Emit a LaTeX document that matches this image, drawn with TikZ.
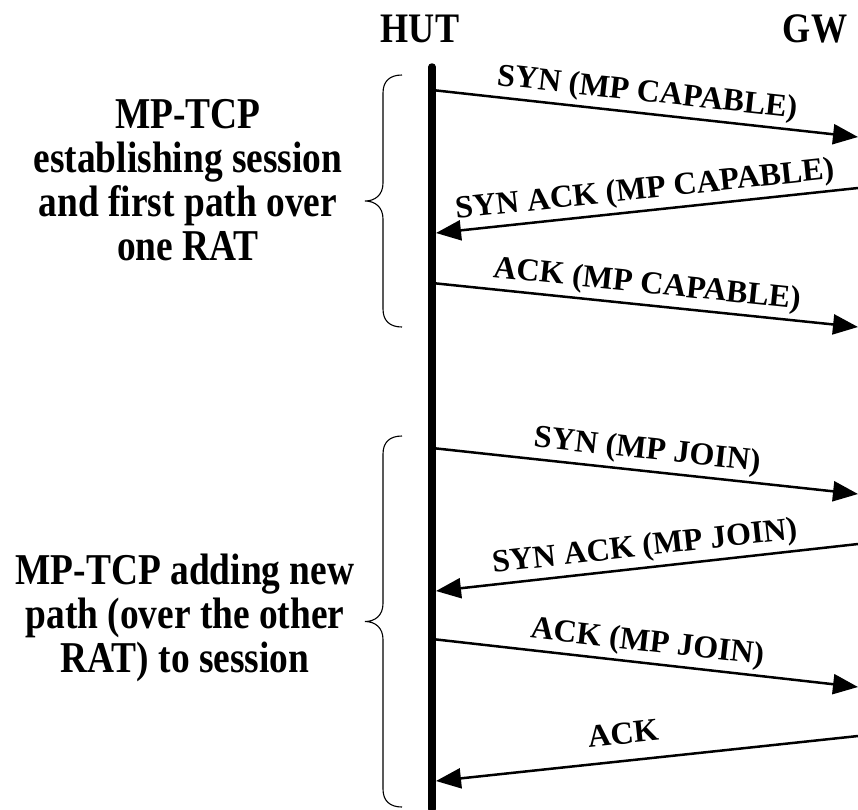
\documentclass[tikz,border=0pt]{standalone}
\usepackage{fontspec}
\setmainfont{Liberation Serif}
\newfontfamily\headfont[FakeStretch=0.86]{Liberation Serif}
\newfontfamily\phasefont[FakeStretch=0.85]{Liberation Serif}
\usetikzlibrary{arrows.meta}

% curly brace opening to the right: #1 = top y, #2 = bottom y
\newcommand{\curlybrace}[2]{%
  \pgfmathsetmacro\bmid{(#1+#2)/2}
  \draw[bracestyle] (402,#1) .. controls (390,#1) and (383,{#1+6}) .. (383,{#1+18})
    -- (383,{\bmid-18}) .. controls (383,{\bmid-6}) and (375,\bmid) .. (365,\bmid)
    .. controls (375,\bmid) and (383,{\bmid+6}) .. (383,{\bmid+18})
    -- (383,{#2-18}) .. controls (383,{#2-6}) and (390,#2) .. (402,#2);}

\begin{document}
\begin{tikzpicture}[x=1pt,y=-1pt,
  header/.style={font=\headfont\bfseries\fontsize{42}{44}\selectfont, anchor=base, inner sep=0pt},
  phase/.style={font=\phasefont\bfseries\fontsize{44}{44}\selectfont, align=center, anchor=base, inner sep=0pt},
  msg/.style={draw, line width=2.5pt, -{Triangle[length=25pt,width=20pt]}},
  msglabel/.style={font=\bfseries\fontsize{32}{34}\selectfont, sloped, anchor=base, inner sep=0pt, yshift=12pt},
  lifeline/.style={line width=7.5pt, line cap=round},
  bracestyle/.style={line width=1.1pt}]
\useasboundingbox (0,0) rectangle (858,809);

% entity headers
\node[header] (hut) at (420,42) {HUT};
\node[header] (gw) at (815,42) {GW};

% message end points (HUT side / GW side)
\coordinate (h1) at (432,90);  \coordinate (g1) at (858,137);
\coordinate (g2) at (858,188); \coordinate (h2) at (436,233);
\coordinate (h3) at (432,283); \coordinate (g3) at (858,327);
\coordinate (h4) at (432,448); \coordinate (g4) at (858,494);
\coordinate (g5) at (858,544); \coordinate (h5) at (436,591);
\coordinate (h6) at (432,639); \coordinate (g6) at (858,687);
\coordinate (g7) at (858,736); \coordinate (h7) at (436,781);

% messages
\draw[msg] (h1) -- node[msglabel] {SYN (MP CAPABLE)} (g1);
\draw[msg] (g2) -- node[msglabel] {SYN ACK (MP CAPABLE)} (h2);
\draw[msg] (h3) -- node[msglabel] {ACK (MP CAPABLE)} (g3);
\draw[msg] (h4) -- node[msglabel] {SYN (MP JOIN)} (g4);
\draw[msg] (g5) -- node[msglabel] {SYN ACK (MP JOIN)} (h5);
\draw[msg] (h6) -- node[msglabel] {ACK (MP JOIN)} (g6);
\draw[msg] (g7) -- node[msglabel, pos=0.55, yshift=5pt] {ACK} (h7);

% HUT lifeline
\coordinate (hutTop) at (432,67);
\coordinate (hutEnd) at (432,809);
\draw[lifeline] (hutTop) -- (hutEnd);

% phase braces and descriptions (anchored at the last line's baseline)
\curlybrace{75}{327}
\curlybrace{436}{807}
\node[phase] (est) at (188,260) {MP-TCP\\establishing session\\and first path over\\one RAT};
\node[phase] (add) at (185,672) {MP-TCP adding new\\path (over the other\\RAT) to session};
\end{tikzpicture}
\end{document}
